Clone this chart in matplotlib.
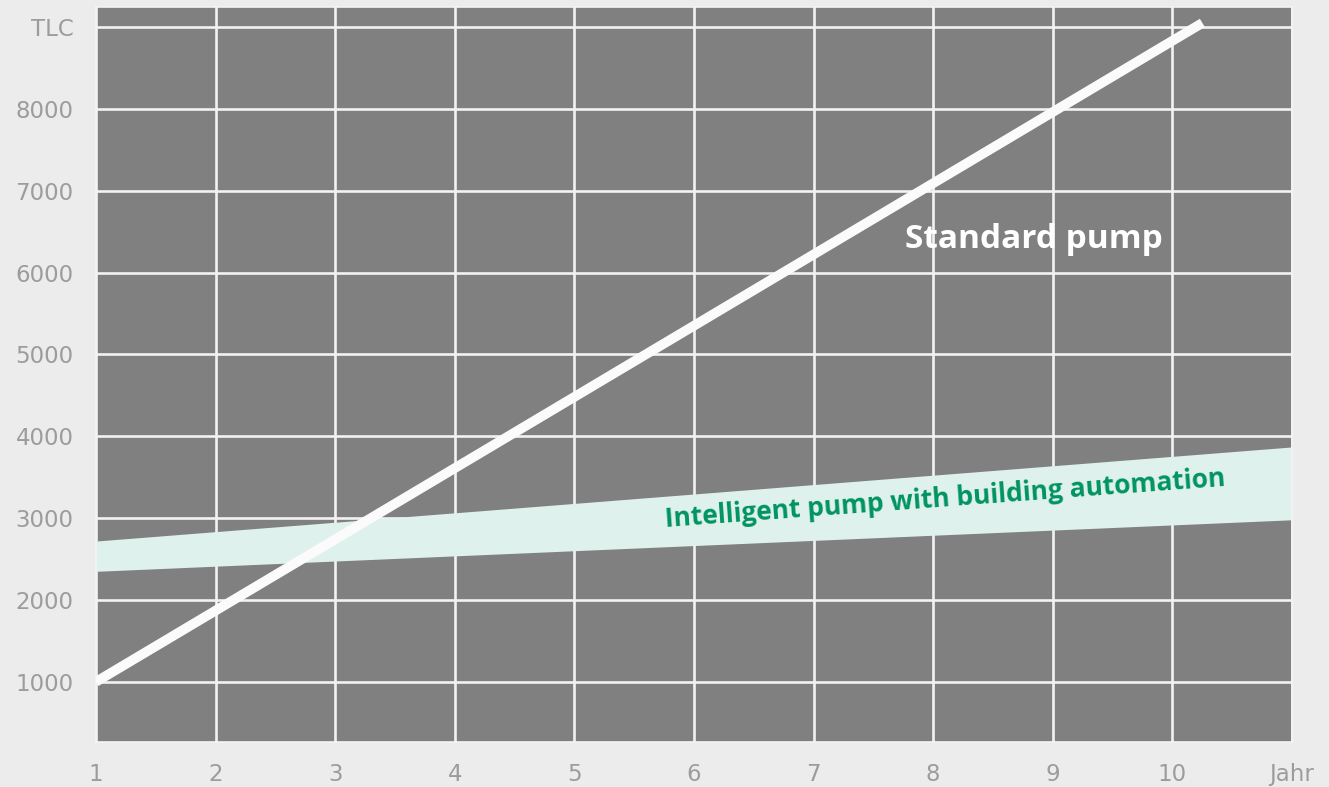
import matplotlib.pyplot as plt

# Gesamtkosten über die Laufzeit (Jahre 1..11)
jahre = [1, 11]
band_unten = [2350, 2980]
band_oben = [2720, 3870]

standard_jahre = [1, 10.25]
standard_tlc = [1000, 9050]

x_ticks = [1, 2, 3, 4, 5, 6, 7, 8, 9, 10, 11]
x_labels = ["1", "2", "3", "4", "5", "6", "7", "8", "9", "10", "Jahr"]
y_ticks = [1000, 2000, 3000, 4000, 5000, 6000, 7000, 8000, 9000]
y_labels = ["1000", "2000", "3000", "4000", "5000", "6000", "7000", "8000", "TLC"]

fig = plt.figure(figsize=(13.29, 7.87), dpi=100, facecolor="#ececec")
ax = fig.add_axes([0.0722, 0.0572, 0.9, 0.9339])
ax.set_facecolor("#808080")

ax.set_xlim(1, 11)
ax.set_ylim(265, 9245)
ax.set_xticks(x_ticks)
ax.set_xticklabels(x_labels)
ax.set_yticks(y_ticks)
ax.set_yticklabels(y_labels)
ax.tick_params(length=0, labelsize=16.5, labelcolor="#9c9c9c")
ax.tick_params(axis="x", pad=15)
ax.tick_params(axis="y", pad=16)

ax.grid(True, color="#f2f2f2", linewidth=1.9)
ax.set_axisbelow(True)
for s in ax.spines.values():
    s.set_color("#f4f4f4")
    s.set_linewidth(1.2)

# Band: intelligente Pumpe mit Gebäudeautomation
ax.fill_between(jahre, band_unten, band_oben, color="#dff1ed", linewidth=0, zorder=2)
ax.text(8.1, 3230, "Intelligent pump with building automation", color="#009460",
        fontsize=19, fontweight="bold", family="Open Sans", rotation=4.2,
        ha="center", va="center", zorder=4)

# Standardpumpe
ax.plot(standard_jahre, standard_tlc, color="#fbfbfb", linewidth=7,
        solid_capstyle="butt", zorder=3)
ax.text(8.84, 6400, "Standard pump", color="white", fontsize=24,
        fontweight="bold", family="Open Sans", ha="center", va="center", zorder=4)

fig.savefig("out.png", dpi=100, facecolor=fig.get_facecolor())
